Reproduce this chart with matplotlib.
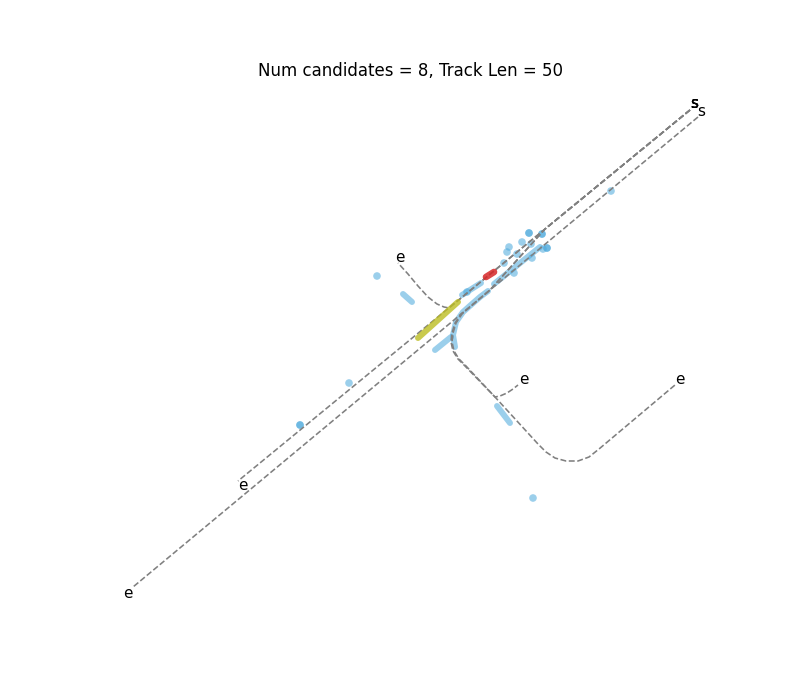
import numpy as np
import matplotlib
matplotlib.use("Agg")
import matplotlib.pyplot as plt

# ---------------- data (image-plane units, y grows downward) ----------------
# reference paths: s -> e
path_upper_x = [690, 238]
path_upper_y = [110, 481]
path_lower_x = [698, 133]
path_lower_y = [117, 587]
path_left_x = [690, 449, 444, 437, 428, 418, 408, 398]
path_left_y = [110, 308, 307, 304, 297, 286, 274, 263]
path_right_x = [690, 545, 490, 470, 462, 456, 453, 452, 454, 459, 466, 495,
                538, 546, 555, 566, 578, 589, 599, 675]
path_right_y = [110, 229, 290, 307, 314, 323, 333, 342, 351, 359, 366, 397,
                444, 452, 458, 461, 461, 457, 449, 385]
path_mid_x = [690, 545, 490, 470, 461, 455, 452, 451, 453, 458, 465, 495,
              500, 507, 513, 518]
path_mid_y = [110, 229, 290, 307, 314, 323, 333, 342, 351, 359, 366, 397,
              396, 393, 389, 385]

# candidate tracks (light blue)
cand_tracks_x = [
    [455, 453, 456, 463, 472, 480, 488],
    [494, 540],
    [435, 451],
    [462, 481],
    [403, 412],
    [497, 510],
]
cand_tracks_y = [
    [347, 335, 322, 312, 304, 297, 291],
    [284, 247],
    [350, 337],
    [295, 283],
    [294, 302],
    [406, 423],
]
cand_pts_x = [377, 349, 300, 300, 533, 611, 529, 529, 542, 542, 522, 531, 509,
              507, 517, 532, 543, 547, 547, 514, 504, 467]
cand_pts_y = [276, 383, 425, 425, 498, 191, 233, 233, 234, 234, 242, 244, 247,
              252, 254, 258, 249, 248, 248, 273, 263, 292]

# selected track (red) and ground truth (olive)
sel_x = [486, 494]
sel_y = [277, 272]
gt_x = [418, 458]
gt_y = [338, 302]

# ---------------- plot ----------------
fig = plt.figure(figsize=(8, 7), dpi=100)
ax = fig.add_subplot(111)

paths = [
    (path_upper_x, path_upper_y, (4, 6), (5, -5)),
    (path_lower_x, path_lower_y, (3, 5), (-5, -6)),
    (path_left_x, path_left_y, (4, 6), (2, 6)),
    (path_right_x, path_right_y, (4, 6), (5, 6)),
    (path_mid_x, path_mid_y, (4, 6), (6, 6)),
]
for px, py, s_off, e_off in paths:
    ax.plot(px, py, ls="--", color="gray", lw=1.15, zorder=3.5)
    ax.annotate("s", (px[0], py[0]), xytext=s_off, textcoords="offset pixels",
                ha="center", va="center", fontsize=11, zorder=5)
    ax.annotate("e", (px[-1], py[-1]), xytext=e_off, textcoords="offset pixels",
                ha="center", va="center", fontsize=11, zorder=5)

cand_color = "#4aa8dc"
for tx, ty in zip(cand_tracks_x, cand_tracks_y):
    ax.plot(tx, ty, color=cand_color, alpha=0.55, lw=4.3,
            solid_capstyle="round", zorder=3)
ax.scatter(cand_pts_x, cand_pts_y, s=30, color=cand_color, alpha=0.55,
           edgecolors="none", zorder=3)

ax.plot(gt_x, gt_y, color="#bcbd22", alpha=0.8, lw=4.3,
        solid_capstyle="round", zorder=4)
ax.plot(sel_x, sel_y, color="#d62728", alpha=0.85, lw=4.8,
        solid_capstyle="round", zorder=4)

ax.set_xlim(100, 720)
ax.set_ylim(623, 84)
ax.axis("off")
ax.set_title("Num candidates = 8, Track Len = 50", fontsize=12)

fig.savefig("out.png", dpi=100)
